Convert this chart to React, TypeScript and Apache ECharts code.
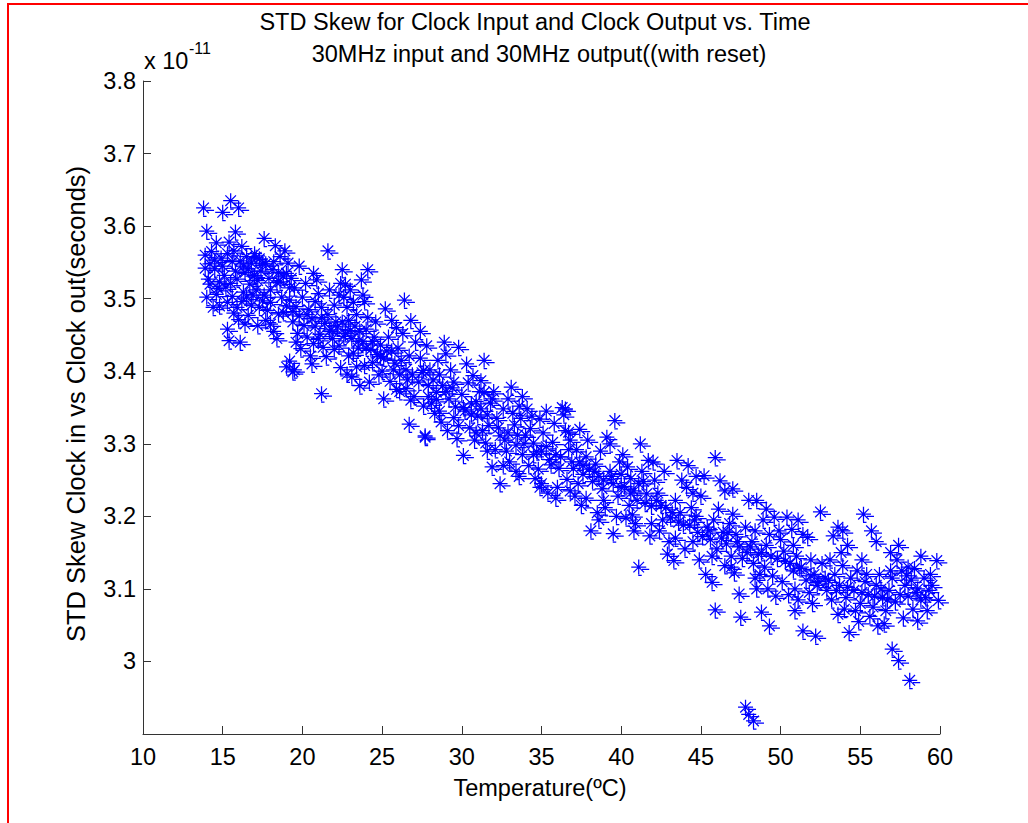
import React, { useEffect, useRef } from 'react';
import * as echarts from 'echarts';

// Temperature (°C) vs STD skew (x 1e-11 s)
const segA: number[][] = [
  [13.8,3.625],[15.5,3.635],[15.0,3.619],[16.0,3.625],[14.0,3.593],[15.8,3.592],[14.6,3.577],[13.9,3.560],[15.4,3.578],[14.1,3.527],
  [14.7,3.514],[14.0,3.502],[14.4,3.488],[15.3,3.495],[15.9,3.527],[16.3,3.509],[16.6,3.477],[17.2,3.463],[15.3,3.458],[15.4,3.442],
  [16.1,3.440],[14.2,3.548],[14.5,3.541],[14.9,3.556],[15.1,3.532],[15.6,3.551],[15.7,3.566],[16.2,3.572],[16.5,3.558],[16.8,3.549],
  [17.0,3.562],[17.3,3.555],[17.6,3.583],[17.1,3.557],[16.4,3.536],[16.7,3.520],[16.9,3.531],[17.4,3.538],[17.7,3.548],[17.9,3.528],
  [15.2,3.516],[15.6,3.503],[15.9,3.488],[16.2,3.496],[16.5,3.502],[16.0,3.471],[16.8,3.491],[17.1,3.512],[17.5,3.497],[17.8,3.484],
  [14.3,3.565],[14.8,3.523],[15.5,3.521],[16.3,3.545],[13.9,3.542],[14.6,3.506],[17.2,3.525],[17.6,3.505],[18.0,3.512],
  [14.5,3.553],[15.0,3.545],[15.3,3.562],[15.8,3.538],[16.1,3.552],[16.6,3.541],[17.0,3.532],[17.5,3.548],[18.1,3.540],[18.4,3.522],
  [18.8,3.531],[19.2,3.515],[16.9,3.505],[17.3,3.488],[18.0,3.495],[18.5,3.479],[19.0,3.490],[19.4,3.482],
];

const segB: number[][] = [
  [18.3,3.573],[18.9,3.566],[18.6,3.523],[18.8,3.481],[18.4,3.445],[19.0,3.406],[18.2,3.551],[18.5,3.536],[19.1,3.549],[19.3,3.528],
  [19.5,3.515],[19.2,3.498],[18.7,3.502],[19.6,3.489],[19.8,3.476],[20.0,3.502],[20.2,3.521],[20.4,3.485],[20.1,3.463],[19.4,3.468],
  [19.7,3.452],[19.9,3.431],[20.3,3.447],[20.6,3.472],[20.8,3.496],[21.0,3.507],[21.2,3.488],[21.4,3.466],[21.1,3.451],[20.7,3.438],
  [19.2,3.414],[19.5,3.402],[20.5,3.421],[21.3,3.433],[21.6,3.478],[21.8,3.457],[22.0,3.491],[22.1,3.468],[21.9,3.445],[21.6,3.566],
  [21.2,3.369],[18.0,3.465],[18.6,3.558],[19.0,3.535],[20.9,3.526],[21.7,3.512],[22.3,3.505],[19.4,3.399],
  [20.3,3.478],[20.8,3.462],[21.2,3.474],[21.7,3.455],[22.2,3.461],[21.0,3.445],[22.0,3.430],
];

const segC: number[][] = [
  [22.4,3.521],[22.6,3.502],[22.8,3.488],[23.0,3.512],[23.2,3.495],[23.4,3.478],[23.7,3.526],[24.1,3.540],[24.1,3.474],[25.2,3.486],
  [26.4,3.498],[22.5,3.468],[22.7,3.452],[22.9,3.470],[23.1,3.445],[23.3,3.462],[23.5,3.432],[23.6,3.455],[23.8,3.441],[24.0,3.458],
  [24.3,3.430],[24.5,3.447],[24.7,3.423],[24.9,3.436],[25.1,3.418],[25.4,3.447],[25.6,3.428],[25.8,3.411],[26.0,3.432],[26.2,3.415],
  [26.5,3.402],[26.7,3.421],[26.9,3.395],[22.8,3.396],[23.6,3.380],[23.4,3.406],[23.9,3.408],[25.1,3.362],[26.5,3.376],[22.3,3.435],
  [22.9,3.421],[24.4,3.412],[24.8,3.395],[25.5,3.386],[26.1,3.372],[26.8,3.360],[25.9,3.460],[26.3,3.452],[27.1,3.440],[24.6,3.468],
  [23.9,3.496],[22.5,3.540],[26.8,3.470],[26.7,3.327],[27.7,3.309],[27.6,3.401],
  [22.6,3.448],[23.0,3.456],[23.5,3.441],[24.0,3.432],[24.4,3.441],[24.9,3.420],[25.3,3.428],[25.7,3.402],[26.1,3.395],[26.6,3.388],
  [23.2,3.425],
];

const segD: number[][] = [
  [27.4,3.418],[27.8,3.435],[28.0,3.402],[28.2,3.388],[28.4,3.371],[28.6,3.395],[28.8,3.380],[29.0,3.424],[29.2,3.362],[29.4,3.377],
  [29.6,3.351],[29.8,3.433],[30.0,3.368],[30.2,3.345],[30.4,3.384],[30.7,3.394],[30.9,3.358],[31.2,3.387],[31.4,3.371],[31.6,3.340],
  [31.8,3.356],[32.0,3.372],[32.2,3.335],[27.7,3.311],[27.6,3.352],[27.9,3.365],[28.3,3.342],[28.7,3.330],[29.1,3.318],[29.7,3.307],
  [30.1,3.284],[30.5,3.322],[30.8,3.305],[31.3,3.318],[31.9,3.268],[29.3,3.402],[28.5,3.415],[30.3,3.410],[31.0,3.338],[31.5,3.301],
  [32.4,3.311],[27.3,3.385],[28.1,3.356],[29.5,3.336],[30.6,3.355],[32.1,3.292],[31.1,3.372],[27.5,3.398],
  [27.9,3.380],[28.4,3.361],[29.0,3.372],[29.5,3.385],[30.1,3.350],[30.6,3.340],[31.2,3.348],[31.7,3.325],[32.3,3.322],[31.9,3.362],
];

const segE: number[][] = [
  [32.6,3.348],[32.9,3.362],[33.1,3.378],[33.3,3.326],[33.5,3.312],[33.7,3.335],[34.1,3.348],[34.3,3.321],[34.5,3.301],[34.7,3.289],
  [34.9,3.334],[35.1,3.315],[35.3,3.296],[35.5,3.278],[35.7,3.302],[35.9,3.285],[36.1,3.266],[36.3,3.350],[36.5,3.318],[36.7,3.292],
  [36.9,3.275],[32.4,3.245],[35.0,3.245],[32.8,3.290],[33.0,3.275],[33.4,3.262],[33.8,3.285],[34.2,3.270],[34.6,3.252],[35.4,3.232],
  [36.0,3.240],[36.6,3.251],[32.7,3.305],[33.9,3.300],[34.8,3.265],[35.8,3.328],[36.4,3.340],[36.8,3.305],[37.0,3.266],[33.6,3.352],
  [34.4,3.338],[32.9,3.315],[33.4,3.298],[34.0,3.312],[34.5,3.285],[35.0,3.290],[35.6,3.271],[36.2,3.282],[33.2,3.342],
];

const segF: number[][] = [
  [37.2,3.292],[37.4,3.275],[37.6,3.258],[37.8,3.282],[38.0,3.265],[38.2,3.248],[38.4,3.272],[38.6,3.255],[38.8,3.238],[39.1,3.309],
  [39.6,3.332],[39.3,3.262],[39.5,3.245],[39.8,3.228],[40.0,3.258],[40.2,3.241],[40.4,3.268],[40.6,3.252],[40.8,3.235],[41.2,3.300],
  [41.0,3.222],[41.4,3.248],[41.7,3.277],[41.6,3.231],[41.9,3.214],[37.1,3.228],[37.5,3.215],[38.1,3.180],[39.5,3.176],[41.8,3.173],
  [41.1,3.130],[38.5,3.205],[39.0,3.212],[40.3,3.198],[40.9,3.190],[37.9,3.305],[38.7,3.290],[40.1,3.285],[36.7,3.316],[36.5,3.348],
  [39.9,3.275],[41.3,3.262],[37.3,3.245],[38.9,3.222],[40.5,3.215],[40.7,3.202],
  [37.6,3.270],[38.3,3.262],[38.9,3.250],[39.4,3.255],[40.0,3.240],[40.6,3.232],[41.1,3.245],[41.5,3.218],
];

const segG: number[][] = [
  [42.1,3.250],[42.3,3.232],[42.5,3.215],[42.7,3.262],[42.9,3.148],[43.3,3.139],[43.1,3.198],[43.5,3.277],[43.4,3.222],[43.7,3.205],
  [43.9,3.188],[44.2,3.270],[44.1,3.240],[44.4,3.212],[44.6,3.195],[44.8,3.178],[45.0,3.228],[45.2,3.256],[45.4,3.185],[45.6,3.168],
  [45.9,3.281],[45.8,3.195],[46.2,3.249],[46.0,3.155],[46.4,3.178],[46.6,3.162],[46.8,3.190],[47.0,3.238],[47.0,3.203],[47.2,3.175],
  [47.4,3.158],[47.6,3.142],[47.8,3.185],[48.0,3.222],[48.5,3.222],[45.7,3.109],[47.4,3.093],[45.9,3.071],[47.5,3.061],[48.8,3.068],
  [42.4,3.180],[43.0,3.165],[44.0,3.155],[44.9,3.140],[45.3,3.120],[46.5,3.132],[47.1,3.122],[47.9,3.150],[43.8,3.250],[46.1,3.210],
  [42.6,3.195],[44.5,3.232],[46.9,3.145],[47.8,2.937],[48.0,2.927],[48.3,2.918],
  [42.2,3.222],[42.8,3.212],[43.2,3.205],[43.6,3.192],[44.3,3.188],[44.7,3.200],[45.1,3.172],[45.5,3.180],[46.3,3.170],[46.7,3.178],
  [47.3,3.165],
];

const segH: number[][] = [
  [48.2,3.165],[48.4,3.180],[48.6,3.148],[48.9,3.195],[49.1,3.160],[49.3,3.175],[49.6,3.199],[49.8,3.142],[50.0,3.168],[50.4,3.199],
  [50.2,3.152],[50.6,3.135],[50.8,3.160],[51.0,3.145],[51.2,3.128],[51.4,3.175],[51.7,3.171],[51.6,3.112],[51.9,3.140],[52.1,3.120],
  [52.5,3.206],[52.3,3.105],[52.6,3.135],[52.8,3.115],[49.3,3.049],[51.4,3.042],[52.2,3.035],[49.2,3.100],[48.7,3.120],[49.5,3.118],
  [50.1,3.110],[50.5,3.092],[51.1,3.085],[50.9,3.070],[48.3,3.135],[49.0,3.130],[49.9,3.180],[50.7,3.182],[51.8,3.095],[52.9,3.098],
  [48.5,3.100],[48.1,3.158],[48.8,3.150],[49.4,3.145],[50.3,3.138],[50.8,3.125],[51.3,3.130],[51.9,3.118],[52.4,3.110],
];

const segI: number[][] = [
  [53.1,3.140],[53.3,3.173],[53.6,3.185],[53.4,3.120],[53.7,3.105],[53.9,3.132],[54.2,3.160],[54.1,3.088],[54.4,3.115],[54.6,3.098],
  [54.8,3.125],[55.0,3.080],[55.2,3.203],[55.7,3.180],[55.3,3.110],[55.5,3.092],[55.8,3.075],[56.0,3.105],[56.2,3.120],[56.4,3.088],
  [56.6,3.070],[56.8,3.098],[57.0,3.115],[57.2,3.082],[57.4,3.160],[57.3,3.140],[57.6,3.125],[57.8,3.105],[58.0,3.090],[58.2,3.112],
  [58.4,3.128],[58.6,3.100],[58.8,3.085],[59.0,3.115],[59.3,3.098],[59.5,3.105],[59.8,3.139],[53.6,3.065],[54.3,3.040],[56.1,3.049],
  [57.0,3.017],[57.4,3.001],[58.1,2.974],[58.6,3.056],[59.2,3.070],[59.9,3.084],[54.9,3.055],[55.6,3.062],[56.5,3.052],[57.7,3.060],
  [58.3,3.072],[53.8,3.150],[56.9,3.150],[55.1,3.140],[54.0,3.072],
  [53.0,3.112],[53.5,3.098],[54.2,3.102],[55.1,3.095],[55.9,3.090],[56.7,3.085],[57.5,3.092],[58.5,3.095],[59.1,3.088],[57.9,3.118],
  [56.3,3.100],
];

const segLower: number[][] = [
  [14.2,3.520],[14.8,3.490],[15.7,3.480],[16.4,3.465],[17.7,3.470],[18.2,3.455],[19.6,3.440],[20.6,3.410],[21.5,3.420],[22.4,3.405],
  [23.1,3.392],[24.2,3.385],[25.0,3.400],[25.9,3.375],[27.0,3.365],[28.6,3.345],[29.8,3.325],[30.9,3.315],[31.6,3.290],[32.6,3.270],
  [33.6,3.255],[34.9,3.240],[35.9,3.225],[36.8,3.235],[37.8,3.225],[38.6,3.195],[39.7,3.200],[40.8,3.180],[41.9,3.190],[43.4,3.170],
  [44.5,3.165],[45.7,3.145],[46.9,3.130],[48.4,3.115],[49.7,3.090],[50.9,3.100],[52.0,3.080],[53.2,3.085],[54.7,3.070],[55.4,3.120],
  [56.9,3.125],[58.0,3.130],[59.4,3.120],
];

const segUpper: number[][] = [
  [19.8,3.545],[20.7,3.535],[22.7,3.520],[23.8,3.505],[25.6,3.470],[27.4,3.455],[28.9,3.440],[31.4,3.415],[33.8,3.365],[35.3,3.345],
  [37.4,3.320],[39.3,3.300],[42.0,3.275],[44.7,3.255],[46.5,3.235],[49.1,3.210],[51.1,3.195],[53.9,3.180],[56.0,3.165],[58.8,3.145],
];

const allPoints = [
  ...segA, ...segB, ...segC, ...segD, ...segE, ...segF, ...segG, ...segH, ...segI, ...segLower, ...segUpper,
];

const xMin = 10;
const xMax = 60;
const xStep = 5;
const yMin = 2.9;
const yMax = 3.8;
const yStep = 0.1;

const titleLine1 = 'STD Skew for Clock Input and Clock Output vs. Time';
const titleLine2 = '30MHz input and 30MHz output((with reset)';
const xName = 'Temperature(ºC)';
const yName = 'STD Skew Clock in vs Clock out(seconds)';

const FONT = '"Liberation Sans", Arial, Helvetica, sans-serif';
const FS = 23.5;

// asterisk marker (with the small dash artifacts of the original rendering)
const ASTERISK =
  'path://M0,0L0,0M22,22L22,22' +
  'M11,3.5L11,18.5M3.5,11L18.5,11M5.7,5.7L16.3,16.3M5.7,16.3L16.3,5.7' +
  'M14.3,13.3L21.5,13.3M10.5,19.3L14,19.3';

function txt(text: string, x: number, y: number, size: number, extra: any = {}) {
  const { align, ...rest } = extra;
  return {
    type: 'text',
    x,
    y,
    silent: true,
    ...rest,
    style: {
      text,
      fill: '#000',
      fontSize: size,
      fontFamily: FONT,
      textAlign: align || 'center',
      textVerticalAlign: 'middle',
      align: align || 'center',
      verticalAlign: 'middle',
    },
  };
}

export default function App() {
  const ref = useRef<HTMLDivElement>(null);
  useEffect(() => {
    if (!ref.current) return;
    const chart = echarts.init(ref.current, undefined, { renderer: 'svg' });
    chart.setOption({
      animation: false,
      backgroundColor: '#fff',
      grid: { left: 143, right: 88, top: 81, bottom: 89, containLabel: false },
      xAxis: {
        type: 'value',
        min: xMin,
        max: xMax,
        interval: xStep,
        axisLine: { lineStyle: { color: '#333', width: 1 } },
        axisTick: { inside: true, length: 8, lineStyle: { color: '#333' } },
        axisLabel: { color: '#000', fontSize: FS, fontFamily: FONT, margin: 11 },
        splitLine: { show: false },
      },
      yAxis: {
        type: 'value',
        min: yMin,
        max: yMax,
        interval: yStep,
        axisLine: { show: true, lineStyle: { color: '#333', width: 1 } },
        axisTick: { show: true, inside: true, length: 8, lineStyle: { color: '#333' } },
        axisLabel: {
          color: '#000',
          fontSize: FS,
          fontFamily: FONT,
          margin: 7,
          formatter: (v: number) => (v < 2.95 ? '' : String(Math.round(v * 10) / 10)),
        },
        splitLine: { show: false },
      },
      series: [
        {
          type: 'scatter',
          data: allPoints,
          symbol: ASTERISK,
          symbolSize: 22,
          silent: true,
          itemStyle: { color: 'none', borderColor: '#0000ff', borderWidth: 1.25, opacity: 1 },
          emphasis: { disabled: true },
        },
      ],
      graphic: [
        {
          type: 'rect',
          silent: true,
          shape: { x: 8, y: 4, width: 1200, height: 1000 },
          style: { fill: 'none', stroke: '#ff0000', lineWidth: 2 },
        },
        txt(titleLine1, 535, 22, FS),
        txt(titleLine2, 539, 54, FS),
        txt('x 10', 144, 61, FS, { align: 'left' }),
        txt('-11', 189, 48, 16, { align: 'left' }),
        txt(xName, 540, 788, FS),
        txt(yName, 76, 404, 25.5, { rotation: Math.PI / 2 }),
      ],
    });
    return () => chart.dispose();
  }, []);
  return (
    <div
      ref={ref}
      style={{ position: 'fixed', left: 0, top: 0, width: 1028, height: 823, background: '#fff' }}
    />
  );
}
